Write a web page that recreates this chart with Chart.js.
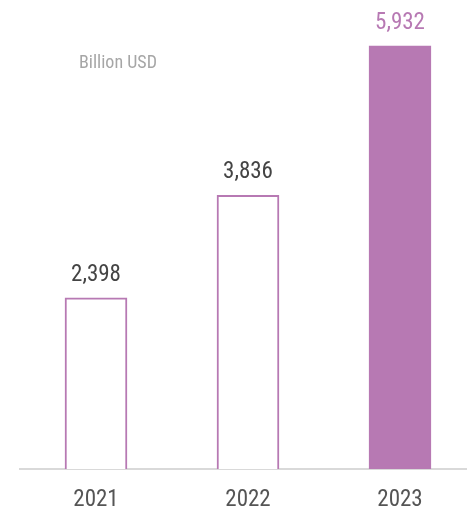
<!DOCTYPE html>
<html>
<head>
<meta charset="utf-8">
<script src="https://cdn.jsdelivr.net/npm/chart.js@4/dist/chart.umd.min.js"></script>
<style>
  html, body { margin: 0; padding: 0; background: #fff; overflow: hidden; }
  #wrap { width: 467px; height: 510px; overflow: hidden; }
</style>
</head>
<body>
<div id="wrap"><canvas id="myChart" width="476" height="510"></canvas></div>
<script>
const years = ['2021', '2022', '2023'];
const revenue = [2398, 3836, 5932];
const unitLabel = 'Billion USD';

const purple = '#b779b3';
const fontFamily = "'Roboto Condensed', Roboto, sans-serif";

// last year is filled, earlier years outlined
const fills = years.map((y, i) => i === years.length - 1 ? purple : '#ffffff');

// value above each bar + unit note
const barLabels = {
    id: 'barLabels',
    afterDatasetsDraw(chart) {
        const ctx = chart.ctx;
        const meta = chart.getDatasetMeta(0);
        ctx.save();
        ctx.font = '23px ' + fontFamily;
        ctx.textAlign = 'center';
        ctx.textBaseline = 'alphabetic';
        meta.data.forEach((bar, i) => {
            ctx.fillStyle = i === years.length - 1 ? purple : '#444444';
            ctx.fillText(revenue[i].toLocaleString('en-US'), bar.x, bar.y - 17);
        });
        ctx.font = '18px ' + fontFamily;
        ctx.fillStyle = '#a6a6a6';
        ctx.textAlign = 'left';
        ctx.fillText(unitLabel, chart.chartArea.left + 59, 68);
        ctx.restore();
    }
};

const ctx = document.getElementById('myChart').getContext('2d');
const chart = new Chart(ctx, {
    type: 'bar',
    data: {
        labels: years,
        datasets: [{
            data: revenue,
            backgroundColor: fills,
            borderColor: purple,
            borderWidth: 2,
            borderSkipped: 'start',
            barThickness: 62
        }]
    },
    options: {
        responsive: false,
        animation: false,
        layout: { padding: { top: 41, left: 20, right: 0, bottom: 0 } },
        plugins: {
            legend: { display: false },
            tooltip: { enabled: false }
        },
        scales: {
            x: {
                grid: { display: false, drawTicks: false },
                border: { display: true, color: '#d9d9d9', width: 2 },
                ticks: {
                    color: '#555555',
                    padding: 17,
                    font: { family: fontFamily, size: 23 }
                },
                afterFit(scale) {
                    scale.height = 41;
                }
            },
            y: {
                display: false,
                min: 0,
                max: 6000
            }
        }
    },
    plugins: [barLabels]
});
</script>
</body>
</html>
